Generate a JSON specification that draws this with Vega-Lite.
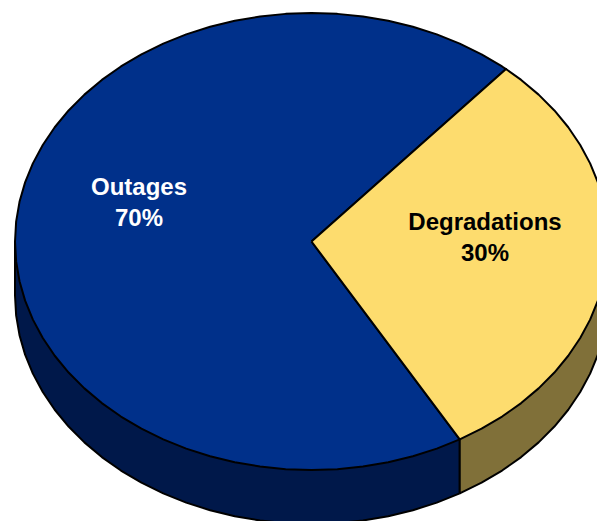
{
  "$schema": "https://vega.github.io/schema/vega-lite/v6.json",
  "width": 597,
  "height": 521,
  "autosize": {"type": "fit", "contains": "padding"},
  "padding": 0,
  "background": "white",
  "config": {"view": {"stroke": null}},
  "datasets": {
    "outline": [
      {"part":"Outages side","seq":1,"u":-1,"v":-0.2363},{"part":"Outages side","seq":2,"u":-0.9962,"v":-0.3235},{"part":"Outages side","seq":3,"u":-0.9848,"v":-0.4099},{"part":"Outages side","seq":4,"u":-0.9659,"v":-0.4951},{"part":"Outages side","seq":5,"u":-0.9397,"v":-0.5783},{"part":"Outages side","seq":6,"u":-0.9063,"v":-0.6589},{"part":"Outages side","seq":7,"u":-0.866,"v":-0.7363},{"part":"Outages side","seq":8,"u":-0.8192,"v":-0.8099},{"part":"Outages side","seq":9,"u":-0.766,"v":-0.8791},{"part":"Outages side","seq":10,"u":-0.7071,"v":-0.9434},{"part":"Outages side","seq":11,"u":-0.6428,"v":-1.0023},{"part":"Outages side","seq":12,"u":-0.5736,"v":-1.0555},{"part":"Outages side","seq":13,"u":-0.5,"v":-1.1023},{"part":"Outages side","seq":14,"u":-0.4226,"v":-1.1426},{"part":"Outages side","seq":15,"u":-0.342,"v":-1.176},{"part":"Outages side","seq":16,"u":-0.2588,"v":-1.2022},{"part":"Outages side","seq":17,"u":-0.1736,"v":-1.2211},{"part":"Outages side","seq":18,"u":-0.0872,"v":-1.2325},{"part":"Outages side","seq":19,"u":0,"v":-1.2363},{"part":"Outages side","seq":20,"u":0.0872,"v":-1.2325},{"part":"Outages side","seq":21,"u":0.1736,"v":-1.2211},{"part":"Outages side","seq":22,"u":0.2588,"v":-1.2022},{"part":"Outages side","seq":23,"u":0.342,"v":-1.176},{"part":"Outages side","seq":24,"u":0.4226,"v":-1.1426},{"part":"Outages side","seq":25,"u":0.5,"v":-1.1023},{"part":"Outages side","seq":26,"u":0.5,"v":-0.866},{"part":"Outages side","seq":27,"u":-1,"v":0},{"part":"Outages side","seq":28,"u":-1,"v":-0.2363},

      {"part":"Degradations side","seq":1,"u":0.5,"v":-1.1023},{"part":"Degradations side","seq":2,"u":0.5736,"v":-1.0555},{"part":"Degradations side","seq":3,"u":0.6428,"v":-1.0023},{"part":"Degradations side","seq":4,"u":0.7071,"v":-0.9434},{"part":"Degradations side","seq":5,"u":0.766,"v":-0.8791},{"part":"Degradations side","seq":6,"u":0.8192,"v":-0.8099},{"part":"Degradations side","seq":7,"u":0.866,"v":-0.7363},{"part":"Degradations side","seq":8,"u":0.9063,"v":-0.6589},{"part":"Degradations side","seq":9,"u":0.9397,"v":-0.5783},{"part":"Degradations side","seq":10,"u":0.9659,"v":-0.4951},{"part":"Degradations side","seq":11,"u":0.9848,"v":-0.4099},{"part":"Degradations side","seq":12,"u":0.9962,"v":-0.3235},{"part":"Degradations side","seq":13,"u":1,"v":-0.2363},{"part":"Degradations side","seq":14,"u":1,"v":0},{"part":"Degradations side","seq":15,"u":0.5,"v":-0.866},{"part":"Degradations side","seq":16,"u":0.5,"v":-1.1023},

      {"part":"Outages","seq":1,"u":0,"v":0},{"part":"Outages","seq":2,"u":0.6561,"v":0.7547},{"part":"Outages","seq":3,"u":0.6428,"v":0.766},{"part":"Outages","seq":4,"u":0.5736,"v":0.8192},{"part":"Outages","seq":5,"u":0.5,"v":0.866},{"part":"Outages","seq":6,"u":0.4226,"v":0.9063},{"part":"Outages","seq":7,"u":0.342,"v":0.9397},{"part":"Outages","seq":8,"u":0.2588,"v":0.9659},{"part":"Outages","seq":9,"u":0.1736,"v":0.9848},{"part":"Outages","seq":10,"u":0.0872,"v":0.9962},{"part":"Outages","seq":11,"u":0,"v":1},{"part":"Outages","seq":12,"u":-0.0872,"v":0.9962},{"part":"Outages","seq":13,"u":-0.1736,"v":0.9848},{"part":"Outages","seq":14,"u":-0.2588,"v":0.9659},{"part":"Outages","seq":15,"u":-0.342,"v":0.9397},{"part":"Outages","seq":16,"u":-0.4226,"v":0.9063},{"part":"Outages","seq":17,"u":-0.5,"v":0.866},{"part":"Outages","seq":18,"u":-0.5736,"v":0.8192},{"part":"Outages","seq":19,"u":-0.6428,"v":0.766},{"part":"Outages","seq":20,"u":-0.7071,"v":0.7071},{"part":"Outages","seq":21,"u":-0.766,"v":0.6428},{"part":"Outages","seq":22,"u":-0.8192,"v":0.5736},{"part":"Outages","seq":23,"u":-0.866,"v":0.5},{"part":"Outages","seq":24,"u":-0.9063,"v":0.4226},{"part":"Outages","seq":25,"u":-0.9397,"v":0.342},{"part":"Outages","seq":26,"u":-0.9659,"v":0.2588},{"part":"Outages","seq":27,"u":-0.9848,"v":0.1736},{"part":"Outages","seq":28,"u":-0.9962,"v":0.0872},{"part":"Outages","seq":29,"u":-1,"v":0},{"part":"Outages","seq":30,"u":-0.9962,"v":-0.0872},{"part":"Outages","seq":31,"u":-0.9848,"v":-0.1736},{"part":"Outages","seq":32,"u":-0.9659,"v":-0.2588},{"part":"Outages","seq":33,"u":-0.9397,"v":-0.342},{"part":"Outages","seq":34,"u":-0.9063,"v":-0.4226},{"part":"Outages","seq":35,"u":-0.866,"v":-0.5},{"part":"Outages","seq":36,"u":-0.8192,"v":-0.5736},{"part":"Outages","seq":37,"u":-0.766,"v":-0.6428},{"part":"Outages","seq":38,"u":-0.7071,"v":-0.7071},{"part":"Outages","seq":39,"u":-0.6428,"v":-0.766},{"part":"Outages","seq":40,"u":-0.5736,"v":-0.8192},{"part":"Outages","seq":41,"u":-0.5,"v":-0.866},{"part":"Outages","seq":42,"u":-0.4226,"v":-0.9063},{"part":"Outages","seq":43,"u":-0.342,"v":-0.9397},{"part":"Outages","seq":44,"u":-0.2588,"v":-0.9659},{"part":"Outages","seq":45,"u":-0.1736,"v":-0.9848},{"part":"Outages","seq":46,"u":-0.0872,"v":-0.9962},{"part":"Outages","seq":47,"u":0,"v":-1},{"part":"Outages","seq":48,"u":0.0872,"v":-0.9962},{"part":"Outages","seq":49,"u":0.1736,"v":-0.9848},{"part":"Outages","seq":50,"u":0.2588,"v":-0.9659},{"part":"Outages","seq":51,"u":0.342,"v":-0.9397},{"part":"Outages","seq":52,"u":0.4226,"v":-0.9063},{"part":"Outages","seq":53,"u":0.5,"v":-0.866},{"part":"Outages","seq":54,"u":0,"v":0},

      {"part":"Degradations","seq":1,"u":0,"v":0},{"part":"Degradations","seq":2,"u":0.6561,"v":0.7547},{"part":"Degradations","seq":3,"u":0.7071,"v":0.7071},{"part":"Degradations","seq":4,"u":0.766,"v":0.6428},{"part":"Degradations","seq":5,"u":0.8192,"v":0.5736},{"part":"Degradations","seq":6,"u":0.866,"v":0.5},{"part":"Degradations","seq":7,"u":0.9063,"v":0.4226},{"part":"Degradations","seq":8,"u":0.9397,"v":0.342},{"part":"Degradations","seq":9,"u":0.9659,"v":0.2588},{"part":"Degradations","seq":10,"u":0.9848,"v":0.1736},{"part":"Degradations","seq":11,"u":0.9962,"v":0.0872},{"part":"Degradations","seq":12,"u":1,"v":0},{"part":"Degradations","seq":13,"u":0.9962,"v":-0.0872},{"part":"Degradations","seq":14,"u":0.9848,"v":-0.1736},{"part":"Degradations","seq":15,"u":0.9659,"v":-0.2588},{"part":"Degradations","seq":16,"u":0.9397,"v":-0.342},{"part":"Degradations","seq":17,"u":0.9063,"v":-0.4226},{"part":"Degradations","seq":18,"u":0.866,"v":-0.5},{"part":"Degradations","seq":19,"u":0.8192,"v":-0.5736},{"part":"Degradations","seq":20,"u":0.766,"v":-0.6428},{"part":"Degradations","seq":21,"u":0.7071,"v":-0.7071},{"part":"Degradations","seq":22,"u":0.6428,"v":-0.766},{"part":"Degradations","seq":23,"u":0.5736,"v":-0.8192},{"part":"Degradations","seq":24,"u":0.5,"v":-0.866},{"part":"Degradations","seq":25,"u":0,"v":0}
    ],
    "labels": [
      {"part":"Outages","share":70,"label":"Outages\n70%","u":-0.5818,"v":0.232},
      {"part":"Degradations","share":30,"label":"Degradations\n30%","u":0.5852,"v":0.083}
    ]
  },
  "layer": [
    {
      "data": {"name": "outline"},
      "mark": {"type": "line", "stroke": "black", "strokeWidth": 2, "strokeJoin": "round", "clip": true},
      "encoding": {
        "x": {"field": "u", "type": "quantitative", "scale": {"domain": [-1.0506, 0.9629], "nice": false, "zero": false}, "axis": null},
        "y": {"field": "v", "type": "quantitative", "scale": {"domain": [-1.2232, 1.0569], "nice": false, "zero": false}, "axis": null},
        "order": {"field": "seq", "type": "quantitative"},
        "fill": {
          "field": "part",
          "type": "nominal",
          "legend": null,
          "scale": {
            "domain": ["Outages side", "Degradations side", "Outages", "Degradations"],
            "range": ["#00184A", "#807039", "#00308A", "#FDDC6E"]
          }
        }
      }
    },
    {
      "data": {"name": "labels"},
      "mark": {"type": "text", "font": "Liberation Sans", "fontWeight": "bold", "fontSize": 24, "lineBreak": "\n", "lineHeight": 31, "align": "center", "baseline": "middle"},
      "encoding": {
        "x": {"field": "u", "type": "quantitative"},
        "y": {"field": "v", "type": "quantitative"},
        "text": {"field": "label", "type": "nominal"},
        "color": {
          "field": "part",
          "type": "nominal",
          "legend": null,
          "scale": {"domain": ["Outages", "Degradations"], "range": ["white", "black"]}
        }
      }
    }
  ],
  "resolve": {"scale": {"color": "independent", "fill": "independent"}}
}
